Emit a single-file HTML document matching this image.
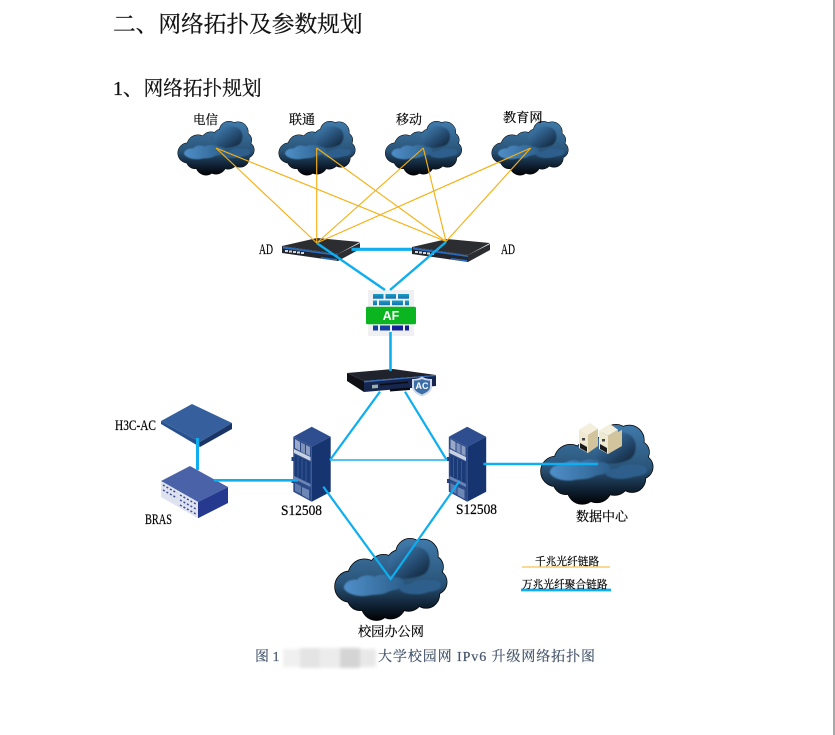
<!DOCTYPE html>
<html lang="zh">
<head>
<meta charset="utf-8">
<title>网络拓扑规划</title>
<style>
html,body{margin:0;padding:0;background:#fff;width:835px;height:735px;overflow:hidden}
svg{display:block;filter:blur(.3px)}
text{font-family:"Liberation Serif","Noto Serif CJK SC",serif;fill:#000;stroke:#000;stroke-width:.2px}
.h{fill:#111;stroke:#111;stroke-width:.25px}
.c{fill:#44546a;stroke:#44546a;font-size:14px}
.w{fill:#fff;stroke:none;font-family:"Liberation Sans",sans-serif;font-weight:bold}
</style>
</head>
<body>
<svg width="835" height="735" viewBox="0 0 835 735" xmlns="http://www.w3.org/2000/svg">
<defs>
  <linearGradient id="cg" gradientUnits="userSpaceOnUse" x1="0" y1="2" x2="0" y2="55">
    <stop offset="0" stop-color="#3f78a8"/>
    <stop offset=".52" stop-color="#2a5478"/>
    <stop offset=".8" stop-color="#0f2133"/>
    <stop offset="1" stop-color="#000"/>
  </linearGradient>
  <linearGradient id="cu" x1="0" y1="0" x2="1" y2="1">
    <stop offset="0" stop-color="#4485bb"/>
    <stop offset=".6" stop-color="#24496d"/>
    <stop offset="1" stop-color="#0f1f30"/>
  </linearGradient>
  <linearGradient id="cl" gradientUnits="userSpaceOnUse" x1="6" y1="0" x2="48" y2="0">
    <stop offset="0" stop-color="#4f8fc8"/>
    <stop offset="1" stop-color="#2b5e8b"/>
  </linearGradient>
  <filter id="b1" x="-20%" y="-20%" width="140%" height="140%"><feGaussianBlur stdDeviation=".5"/></filter>
  <filter id="b2" x="-20%" y="-30%" width="140%" height="160%"><feGaussianBlur stdDeviation="1.600"/></filter>
  <g id="cbody">
    <circle cx="10" cy="32" r="10"/><circle cx="20" cy="25" r="11"/><circle cx="33" cy="21" r="10"/>
    <circle cx="44" cy="17" r="9"/><circle cx="51" cy="10" r="9.500"/><circle cx="60" cy="11" r="10"/>
    <circle cx="66" cy="19" r="7.500"/><circle cx="68" cy="29" r="8"/><circle cx="62" cy="37" r="9"/>
    <circle cx="50" cy="38" r="10"/><circle cx="38" cy="43" r="10"/><circle cx="28" cy="44" r="10"/>
    <circle cx="17" cy="39" r="8.500"/><circle cx="40" cy="28" r="14"/><circle cx="55" cy="24" r="13"/>
  </g>
  <g id="cloud">
    <use href="#cbody" fill="#000" stroke="#000" stroke-width="1"/>
    <use href="#cbody" fill="url(#cg)"/>
    <g filter="url(#b1)">
      <path fill="url(#cu)" d="M36 18C36 12 41 9 46 8C50 4 60 5 63 10C66 15 64 22 60 24C54 27 44 28 40 25C37 23 35 21 36 18Z"/>
      <path fill="url(#cl)" d="M6 33C6 29 11 27 15 27.500C18 24 24 24 27 25.500C31 23 38 24 40 26C44 25 48 28 47 31C45 34 40 34 37 35C32 38 26 37 22 38C16 39 8 37 6 33Z"/>
      <path fill="#2d5f8c" d="M44 34C45 31 49 30 52 30C55 27 62 27 65 28C69 27 73 29 72 32C71 35 65 35 62 36C56 38 46 37 44 34Z"/>
    </g>
  </g>
  <g id="ad">
    <polygon points="282,246 317,238 360,242 338,254" fill="#2c2d30"/>
    <polygon points="282,246 338,254 338,261 282,253" fill="#22262f"/>
    <polygon points="338,254 360,243 360,249 338,261" fill="#2b2d33"/>
    <polygon points="283,246.500 338,254.500 338,256 283,248.500" fill="#2a6dc0"/>
    <g fill="#d5d7dd"><rect x="285" y="250" width="3" height="2"/><rect x="289" y="250.500" width="3" height="2"/><rect x="293" y="251" width="3" height="2"/><rect x="297" y="251.500" width="3" height="2"/><rect x="301" y="252" width="3" height="2"/></g>
    <polygon points="321,257 337,259 337,260.500 321,258.500" fill="#2a6dc0"/>
  </g>
  <g id="sw">
    <polygon points="311.700,426.700 330.700,436.700 311.700,446.700 293.300,436.700" fill="#2f4e8f"/>
    <polygon points="311.700,446.700 330.700,436.700 330.700,491.700 311.700,501.700" fill="#163470"/>
    <polygon points="293.300,436.700 311.700,446.700 311.700,501.700 293.300,491.700" fill="#2c4a88"/>
    <polygon points="295,439 300,442 300,451 295,448" fill="#9aa9c8"/>
    <polygon points="301,442.500 305,444.500 305,454 301,451.500" fill="#7f93ba"/>
    <polygon points="306,445 310,447 310,456 306,454" fill="#8b9dc2"/>
    <polygon points="294,449 310.500,457 310.500,461 294,453" fill="#c8d2e3"/>
    <polygon points="295,455 310,462 310,483 295,476" fill="#1b3a78"/>
    <g stroke="#3e5f9c" stroke-width=".8"><line x1="298" y1="457" x2="298" y2="477"/><line x1="302" y1="459" x2="302" y2="479"/><line x1="306" y1="461" x2="306" y2="481"/></g>
    <polygon points="294,476 310.500,484 310.500,487 294,479" fill="#6c84b2"/>
    <polygon points="295,483 301,486 301,494 295,491" fill="#5d78ab"/>
    <polygon points="302,487 309,490 309,499 302,495" fill="#6c86b6"/>
    <rect x="291.500" y="457" width="3" height="4" fill="#24407a"/>
    <rect x="291.500" y="479" width="3" height="4" fill="#24407a"/>
  </g>
  <g id="srv">
    <polygon points="579,429.700 590,423 598,428.700 588,434.700" fill="#f4efdc"/>
    <polygon points="579,429.700 588,434.700 588,453 579,448" fill="#efe9d2"/>
    <polygon points="588,434.700 598,428.700 598,446 588,453" fill="#d2c59d"/>
    <polygon points="580,443 587,447 587,452 580,448" fill="#1b1b1b"/>
    <rect x="582" y="438" width="3" height="2.500" fill="#444"/>
  </g>
  <linearGradient id="ba" x1="0" y1="0" x2="0" y2="1">
    <stop offset="0" stop-color="#18a0c4"/>
    <stop offset="1" stop-color="#1a6cb0"/>
  </linearGradient>
</defs>

<rect x="833" y="0" width="2" height="735" fill="#a8a8a8"/>

<text class="h" x="113" y="32" font-size="22.700">二、网络拓扑及参数规划</text>
<text class="h" x="113" y="95" font-size="20">1、</text>
<text class="h" x="143.500" y="95" font-size="19.700">网络拓扑规划</text>

<use href="#cloud" transform="translate(178,121)"/>
<use href="#cloud" transform="translate(279,121)"/>
<use href="#cloud" transform="translate(385.500,121)"/>
<use href="#cloud" transform="translate(492,121)"/>
<use href="#cloud" transform="translate(541,424) scale(1.470,1.480)"/>
<use href="#cloud" transform="translate(335,538) scale(1.470,1.520)"/>

<use href="#ad"/>
<use href="#ad" transform="translate(130,1)"/>

<!-- AF -->
<rect x="368" y="290" width="46" height="46" fill="#f0f0f2"/>
<g fill="url(#ba)">
  <rect x="373" y="294" width="10.500" height="4.700"/><rect x="385.500" y="294" width="10.500" height="4.700"/><rect x="398" y="294" width="11" height="4.700"/>
  <rect x="373" y="300.500" width="4" height="4.700"/><rect x="379" y="300.500" width="11" height="4.700"/><rect x="392" y="300.500" width="11" height="4.700"/><rect x="405" y="300.500" width="4" height="4.700"/>
</g>
<rect x="366" y="306.700" width="50" height="17.500" rx="1.500" fill="#0bb51f"/>
<text class="w" x="391" y="320" font-size="12.500" text-anchor="middle">AF</text>
<g fill="#1440a0">
  <rect x="373" y="325.500" width="5" height="5"/><rect x="380" y="325.500" width="10" height="5"/><rect x="392" y="325.500" width="11" height="5" fill="#111f98"/><rect x="405" y="325.500" width="4" height="5" fill="#111f98"/>
</g>

<!-- AC -->
<polygon points="347,373 393,369 436,375 364,381" fill="#20222c"/>
<polygon points="347,373 364,381 364,392 347,381" fill="#0e1016"/>
<polygon points="364,381 436,375 436,386 364,392" fill="#16264f"/>
<polygon points="364,381 436,375 436,376 364,382.500" fill="#3a70b8"/>
<polygon points="372,385 378,384.500 378,388 372,388.500" fill="#9bb0a8"/>
<polygon points="380,384 408,381.500 408,383 380,385.500" fill="#0a0c14"/>
<polygon points="390,389 410,387.500 410,390 390,391.500" fill="#0a0c14"/>
<path d="M412 379C417 379 420 378 422 376.500C424 378 427 379 432 379L432 387C432 392 426 395 422 396.500C418 395 412 392 412 387Z" fill="#cfd8e6"/>
<path d="M414 380.500C418 380.500 420 380 422 379C424 380 426 380.500 430 380.500L430 387C430 391 425 393 422 394.500C419 393 414 391 414 387Z" fill="#3c6ea8"/>
<text class="w" x="422" y="389" font-size="9" text-anchor="middle">AC</text>

<!-- H3C-AC -->
<polygon points="192,404 232,423 200,442 161,421" fill="#35609d"/>
<polygon points="161,421 200,442 200,447 161,424" fill="#28508f"/>
<polygon points="200,442 232,423 232,429 200,447" fill="#1a3565"/>

<!-- BRAS -->
<polygon points="190,466 228,487 198,502 161,481" fill="#4a62a8"/>
<polygon points="198,502 228,487 228,503 198,518.300" fill="#25398e"/>
<polygon points="161,481 198,502 198,518.300 161,497" fill="#dfe3f0"/>
<g stroke="#3d4e94" stroke-width="1.500" stroke-dasharray="2 2">
  <line x1="163" y1="485" x2="177" y2="493"/>
  <line x1="163" y1="490" x2="177" y2="498"/>
  <line x1="180" y1="495" x2="196" y2="504"/>
  <line x1="180" y1="500" x2="196" y2="509"/>
  <line x1="180" y1="505" x2="196" y2="514"/>
</g>

<use href="#sw"/>
<use href="#sw" transform="translate(155.500,0)"/>

<!-- servers -->
<use href="#srv"/>
<use href="#srv" transform="translate(20,1)"/>
<polygon points="608,438 622,429.700 622,446 608,454" fill="#d2c59d"/>

<!-- orange links -->
<g stroke="#f7b012" stroke-width="1.150" fill="none">
  <line x1="216" y1="148" x2="316.700" y2="243"/>
  <line x1="216" y1="148" x2="446" y2="241.500"/>
  <line x1="316.700" y1="148" x2="316.700" y2="243"/>
  <line x1="316.700" y1="148" x2="446" y2="241.500"/>
  <line x1="423.300" y1="148" x2="316.700" y2="243"/>
  <line x1="423.300" y1="148" x2="446" y2="241.500"/>
  <line x1="530.700" y1="148" x2="316.700" y2="243"/>
  <line x1="530.700" y1="148" x2="446" y2="241.500"/>
</g>

<!-- blue links -->
<g stroke="#0eaeef" fill="none">
  <line x1="351.500" y1="249.300" x2="412" y2="249.300" stroke-width="3.200"/>
  <line x1="316.700" y1="243" x2="385" y2="290" stroke-width="2.400"/>
  <line x1="446" y1="242" x2="390" y2="290" stroke-width="2.400"/>
  <line x1="390.500" y1="332" x2="390.500" y2="371" stroke-width="2.600"/>
  <line x1="380" y1="391.700" x2="330" y2="460" stroke-width="2.200"/>
  <line x1="405" y1="391.700" x2="446.700" y2="460" stroke-width="2.200"/>
  <line x1="330" y1="460" x2="447" y2="460" stroke-width="1.800" stroke="#38bcf0"/>
  <line x1="197.500" y1="438" x2="197.500" y2="470" stroke-width="3"/>
  <line x1="214" y1="480.300" x2="298" y2="480.300" stroke-width="2.600"/>
  <line x1="483.300" y1="464" x2="598" y2="464" stroke-width="2.600"/>
  <polyline points="323.300,486.700 390.700,579 459.700,480.700" stroke-width="2.200"/>
  <line x1="521" y1="590" x2="611" y2="590" stroke-width="2.800"/>
</g>
<line x1="522" y1="567" x2="610" y2="567" stroke="#f0b429" stroke-width="1"/>

<!-- labels -->
<text x="193" y="124" font-size="12.500">电信</text>
<text x="289" y="124" font-size="13">联通</text>
<text x="396" y="124" font-size="13">移动</text>
<text x="503" y="122" font-size="13.200">教育网</text>
<text x="259" y="254" font-size="15" textLength="14" lengthAdjust="spacingAndGlyphs">AD</text>
<text x="501" y="254" font-size="15" textLength="14" lengthAdjust="spacingAndGlyphs">AD</text>
<text x="115" y="430" font-size="15" textLength="41" lengthAdjust="spacingAndGlyphs">H3C-AC</text>
<text x="145" y="524" font-size="15" textLength="27" lengthAdjust="spacingAndGlyphs">BRAS</text>
<text x="281" y="515" font-size="14.500" textLength="41" lengthAdjust="spacingAndGlyphs">S12508</text>
<text x="456" y="514" font-size="14.500" textLength="41" lengthAdjust="spacingAndGlyphs">S12508</text>
<text x="576" y="521" font-size="13">数据中心</text>
<text x="358" y="636" font-size="13.200">校园办公网</text>
<text x="535" y="565" font-size="10.700">千兆光纤链路</text>
<text x="522" y="588" font-size="10.700">万兆光纤聚合链路</text>

<!-- caption -->
<g filter="url(#b2)">
  <rect x="283" y="649" width="17" height="18" fill="#f0f0f0"/>
  <rect x="300" y="648" width="20" height="20" fill="#e4e4e4"/>
  <rect x="320" y="648" width="20" height="20" fill="#ececec"/>
  <rect x="340" y="648" width="20" height="20" fill="#d4d4d4"/>
  <rect x="360" y="649" width="16" height="18" fill="#e8e8e8"/>
</g>
<text class="c" x="255" y="661">图 1</text>
<text class="c" x="378" y="661" textLength="217">大学校园网 IPv6 升级网络拓扑图</text>
</svg>
</body>
</html>
